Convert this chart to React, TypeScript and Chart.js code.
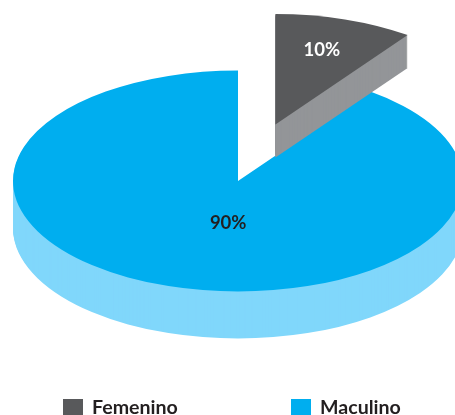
import { useEffect, useRef } from "react";
import { Chart, registerables } from "chart.js";

Chart.register(...registerables);

const categories = ["Femenino", "Maculino"];
const shares = [10, 90];
const faceColors = ["#58595B", "#00AEEF"];
const wallColors = ["#939598", "#80D7FB"];
const textColors = ["#FFFFFF", "#231F20"];

// Geometry of the tilted disc, in canvas pixels.
const CENTER_X = 238;
const CENTER_Y = 181;
const RADIUS = 225;
const TILT = 0.491;
const wallDepths = [33, 47];
const explodeBy = [121, 0];
const labelRadiusShare = [0.71, 0.4];
const labelShiftX = [-3, 18];

const LABEL_FONT = "bold 18.5px Lato, sans-serif";
const LEGEND_FONT = "bold 19.6px Lato, sans-serif";
const legendBoxX = [63, 291];
const LEGEND_BOX_TOP = 399;
const LEGEND_BOX_W = 20;
const LEGEND_BOX_H = 16;
const LEGEND_TEXT_GAP = 9;
const LEGEND_BASELINE = 414;

const tiltedPie = {
  id: "tiltedPie",
  beforeDatasetsDraw(chart: any) {
    const { ctx } = chart;
    const arcs: any[] = chart.getDatasetMeta(0).data;

    const place = (arc: any, i: number, drop: number) => {
      const mid = (arc.startAngle + arc.endAngle) / 2;
      ctx.translate(
        CENTER_X + Math.cos(mid) * explodeBy[i],
        CENTER_Y + Math.sin(mid) * explodeBy[i] * TILT + drop
      );
      ctx.scale(1, TILT);
      ctx.translate(-arc.x, -arc.y);
    };

    // Largest slice first so the exploded one sits in front of it.
    for (let i = arcs.length - 1; i >= 0; i--) {
      const arc = arcs[i];
      const faceOptions = arc.options;

      arc.options = { ...faceOptions, backgroundColor: wallColors[i] };
      for (let drop = wallDepths[i]; drop > 0; drop--) {
        ctx.save();
        place(arc, i, drop);
        arc.draw(ctx);
        ctx.restore();
      }

      arc.options = faceOptions;
      ctx.save();
      place(arc, i, 0);
      arc.draw(ctx);
      ctx.restore();
    }

    // Percentage labels on the top faces.
    ctx.save();
    ctx.font = LABEL_FONT;
    ctx.textAlign = "center";
    ctx.textBaseline = "middle";
    arcs.forEach((arc, i) => {
      const mid = (arc.startAngle + arc.endAngle) / 2;
      const r = explodeBy[i] + RADIUS * labelRadiusShare[i];
      ctx.fillStyle = textColors[i];
      ctx.fillText(
        `${shares[i]}%`,
        CENTER_X + Math.cos(mid) * r + labelShiftX[i],
        CENTER_Y + Math.sin(mid) * r * TILT
      );
    });
    ctx.restore();

    return false;
  },
  afterDraw(chart: any) {
    const { ctx } = chart;
    ctx.save();
    ctx.font = LEGEND_FONT;
    ctx.textAlign = "left";
    ctx.textBaseline = "alphabetic";
    categories.forEach((name, i) => {
      ctx.fillStyle = faceColors[i];
      ctx.fillRect(legendBoxX[i], LEGEND_BOX_TOP, LEGEND_BOX_W, LEGEND_BOX_H);
      ctx.fillStyle = "#231F20";
      ctx.fillText(name, legendBoxX[i] + LEGEND_BOX_W + LEGEND_TEXT_GAP, LEGEND_BASELINE);
    });
    ctx.restore();
  },
};

export default function App() {
  const canvasRef = useRef<HTMLCanvasElement | null>(null);

  useEffect(() => {
    document.body.style.margin = "0";
    const chart = new Chart(canvasRef.current as HTMLCanvasElement, {
      type: "pie",
      data: {
        labels: categories,
        datasets: [{ data: shares, backgroundColor: faceColors, borderWidth: 0 }],
      },
      options: {
        animation: false,
        responsive: false,
        radius: RADIUS,
        plugins: {
          legend: { display: false },
          tooltip: { enabled: false },
        },
      },
      plugins: [tiltedPie],
    } as any);
    return () => chart.destroy();
  }, []);

  return <canvas ref={canvasRef} width={455} height={415} style={{ display: "block" }} />;
}
